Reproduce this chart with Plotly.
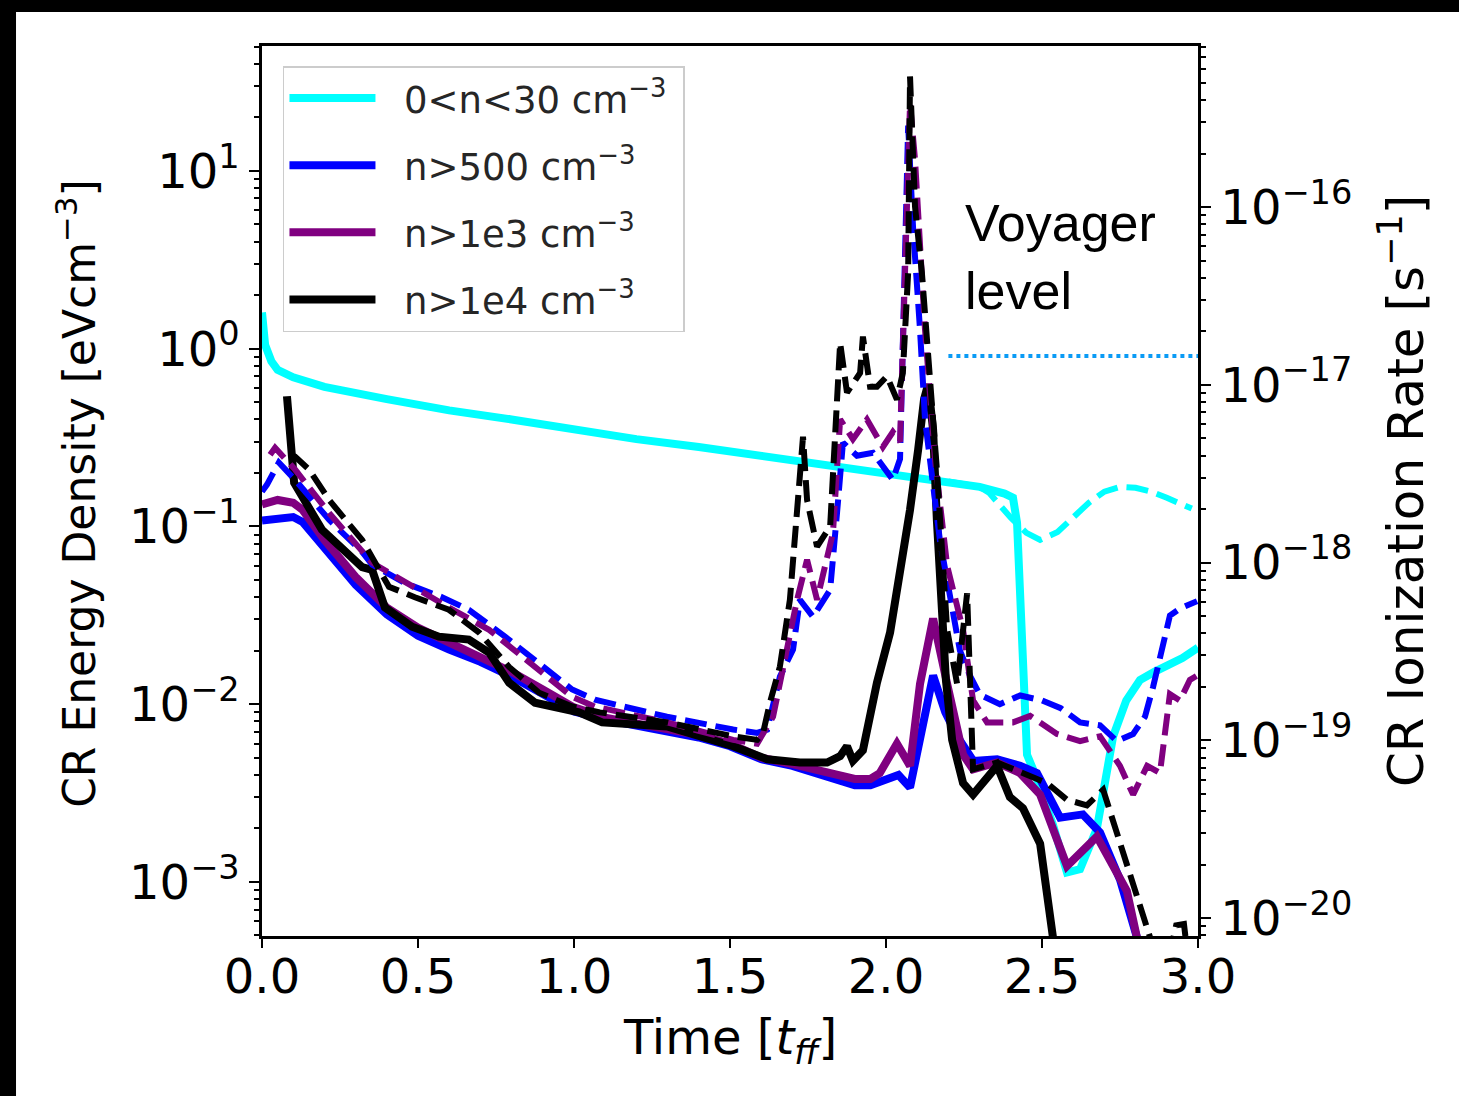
import plotly.graph_objects as go

# ---------------- data ----------------
# time in free-fall times, CR energy density in eV cm^-3
t_cyan = [0, 0.01, 0.03, 0.05, 0.1, 0.2, 0.4, 0.6, 0.8, 1.0, 1.2, 1.4, 1.6, 1.8, 2.0, 2.2, 2.3,
          2.38, 2.407, 2.42, 2.43, 2.44, 2.452, 2.484, 2.535, 2.58, 2.622, 2.676, 2.728, 2.77,
          2.814, 2.86, 2.90, 2.95, 3.0]
e_cyan = [1.6, 1.05, 0.85, 0.76, 0.69, 0.61, 0.52, 0.45, 0.40, 0.35, 0.31, 0.28, 0.25, 0.22,
          0.198, 0.179, 0.167, 0.153, 0.145, 0.105, 0.042, 0.0105, 0.0052, 0.0038, 0.0021,
          0.00113, 0.00118, 0.0020, 0.0066, 0.0105, 0.0137, 0.0152, 0.0164, 0.0182, 0.0208]

t_cyan_d = [2.2, 2.3, 2.33, 2.36, 2.4, 2.45, 2.494, 2.55, 2.6, 2.65, 2.7, 2.75, 2.8, 2.85, 2.9,
            2.95, 2.98]
e_cyan_d = [0.179, 0.167, 0.155, 0.135, 0.112, 0.092, 0.084, 0.093, 0.112, 0.136, 0.157, 0.167,
            0.165, 0.157, 0.145, 0.133, 0.126]

t_blue = [0, 0.05, 0.1, 0.13, 0.2, 0.3, 0.4, 0.5, 0.6, 0.7, 0.8, 0.9, 1.0, 1.1, 1.2, 1.3, 1.4,
          1.5, 1.6, 1.7, 1.8, 1.9, 1.95, 2.0, 2.04, 2.077, 2.1, 2.13, 2.151, 2.19, 2.228, 2.28,
          2.356, 2.43, 2.484, 2.558, 2.631, 2.686, 2.75, 2.804]
e_blue = [0.108, 0.110, 0.113, 0.106, 0.076, 0.047, 0.032, 0.0243, 0.0203, 0.0173, 0.0143,
          0.0115, 0.0091, 0.0082, 0.0076, 0.0071, 0.0065, 0.0058, 0.0049, 0.0045, 0.0040,
          0.0035, 0.0035, 0.0038, 0.0040, 0.0034, 0.0055, 0.0105, 0.0145, 0.0090, 0.0066,
          0.0048, 0.0049, 0.0045, 0.0041, 0.0023, 0.0024, 0.0019, 0.00103, 0.00049]

t_blue_d = [0, 0.016, 0.054, 0.106, 0.215, 0.321, 0.353, 0.458, 0.577, 0.663, 0.779, 0.888,
            0.994, 1.067, 1.298, 1.51, 1.587, 1.619, 1.66, 1.702, 1.724, 1.766, 1.821, 1.843,
            1.862, 1.907, 1.958, 2.022, 2.045, 2.071, 2.087, 2.109, 2.125, 2.173, 2.237, 2.269,
            2.301, 2.365, 2.43, 2.5, 2.56, 2.622, 2.686, 2.74, 2.792, 2.83, 2.856, 2.91, 2.942,
            2.997]
e_blue_d = [0.157, 0.172, 0.229, 0.183, 0.109, 0.072, 0.061, 0.048, 0.040, 0.034, 0.024, 0.0171,
            0.0121, 0.0106, 0.0085, 0.0072, 0.0069, 0.0072, 0.0143, 0.0203, 0.0387, 0.031, 0.044,
            0.119, 0.296, 0.25, 0.26, 0.183, 0.24, 18, 4.7, 1.28, 0.4, 0.083, 0.020, 0.0145,
            0.0113, 0.0100, 0.0112, 0.0105, 0.0095, 0.0079, 0.0076, 0.0062, 0.0068, 0.0085,
            0.0125, 0.0315, 0.0345, 0.038]

t_purple = [0, 0.05, 0.1, 0.13, 0.2, 0.3, 0.4, 0.5, 0.6, 0.7, 0.8, 0.9, 1.0, 1.1, 1.2, 1.3,
            1.4, 1.5, 1.6, 1.7, 1.8, 1.9, 1.95, 1.98, 2.035, 2.077, 2.109, 2.151, 2.196, 2.247,
            2.279, 2.356, 2.429, 2.494, 2.58, 2.676, 2.728, 2.772, 2.804]
e_purple = [0.133, 0.141, 0.136, 0.124, 0.084, 0.052, 0.035, 0.027, 0.0222, 0.0185, 0.0152,
            0.0121, 0.0096, 0.0084, 0.0078, 0.0073, 0.0067, 0.0060, 0.0050, 0.0046, 0.0042,
            0.0038, 0.0038, 0.0041, 0.0060, 0.0045, 0.0130, 0.0303, 0.0130, 0.0052, 0.0043,
            0.0047, 0.0041, 0.0031, 0.00123, 0.0018, 0.00123, 0.00089, 0.00049]

t_purple_d = [0.026, 0.042, 0.106, 0.215, 0.353, 0.481, 0.599, 0.728, 0.856, 0.994, 1.067,
              1.298, 1.51, 1.587, 1.638, 1.67, 1.715, 1.747, 1.779, 1.830, 1.853, 1.894, 1.939,
              1.990, 2.022, 2.045, 2.077, 2.093, 2.109, 2.125, 2.157, 2.196, 2.247, 2.279, 2.324,
              2.407, 2.462, 2.548, 2.622, 2.686, 2.75, 2.792, 2.837, 2.878, 2.91, 2.942, 2.974,
              2.997]
e_purple_d = [0.253, 0.277, 0.209, 0.119, 0.0625, 0.0458, 0.035, 0.0262, 0.0171, 0.0110,
              0.0097, 0.0079, 0.0063, 0.0060, 0.0085, 0.0163, 0.0387, 0.065, 0.0387, 0.092, 0.40,
              0.31, 0.40, 0.28, 0.34, 0.30, 24, 11.6, 4.1, 1.28, 0.238, 0.060, 0.0262, 0.0105,
              0.0079, 0.0079, 0.0086, 0.0068, 0.0062, 0.0066, 0.0045, 0.0031, 0.0045, 0.0041,
              0.0114, 0.0105, 0.0137, 0.0145]

t_black = [0.08, 0.103, 0.192, 0.321, 0.353, 0.394, 0.481, 0.567, 0.663, 0.728, 0.792, 0.875,
           1.016, 1.09, 1.298, 1.51, 1.619, 1.724, 1.811, 1.853, 1.875, 1.894, 1.926, 1.971,
           2.013, 2.045, 2.077, 2.103, 2.122, 2.135, 2.151, 2.163, 2.176, 2.192, 2.212, 2.247,
           2.279, 2.356, 2.397, 2.439, 2.494, 2.535]
e_black = [0.54, 0.176, 0.096, 0.059, 0.057, 0.035, 0.0273, 0.024, 0.0231, 0.0195, 0.0132,
           0.0102, 0.0090, 0.0079, 0.0075, 0.0058, 0.0049, 0.0047, 0.0047, 0.0051, 0.0058,
           0.0048, 0.0055, 0.0132, 0.0253, 0.055, 0.124, 0.27, 0.52, 0.63, 0.35, 0.109, 0.0387,
           0.0137, 0.0063, 0.0036, 0.0031, 0.0045, 0.0030, 0.0026, 0.00164, 0.00049]

t_black_d = [0.090, 0.106, 0.151, 0.215, 0.321, 0.407, 0.490, 0.599, 0.696, 0.792, 0.888,
             0.994, 1.083, 1.298, 1.51, 1.587, 1.606, 1.628, 1.66, 1.692, 1.734, 1.747, 1.779,
             1.821, 1.853, 1.875, 1.917, 1.926, 1.949, 1.971, 2.003, 2.035, 2.054, 2.071, 2.077,
             2.093, 2.115, 2.131, 2.141, 2.163, 2.196, 2.228, 2.260, 2.269, 2.279, 2.356, 2.439,
             2.516, 2.580, 2.644, 2.696, 2.75, 2.824, 2.846, 2.894, 2.930, 2.955, 2.974]
e_black_d = [0.253, 0.247, 0.209, 0.141, 0.084, 0.0458, 0.040, 0.034, 0.0253, 0.0162, 0.0116,
             0.0097, 0.0090, 0.0079, 0.0066, 0.0063, 0.0069, 0.0102, 0.0163, 0.0387, 0.32, 0.141,
             0.077, 0.10, 1.08, 0.566, 0.73, 1.17, 0.61, 0.61, 0.70, 0.517, 0.73, 2.68, 34, 6.3,
             2.68, 1.12, 0.67, 0.21, 0.0262, 0.013, 0.042, 0.015, 0.0043, 0.0047, 0.0041, 0.0036,
             0.0029, 0.0027, 0.0033, 0.00164, 0.00065, 0.00049, 0.0003, 0.00057, 0.00058, 0.0003]

# Voyager ionization level (right axis, s^-1)
voyager_t = [2.2, 3.0]
voyager_rate = [1.45e-17, 1.45e-17]

# axis ticks
x_ticks = [0.0, 0.5, 1.0, 1.5, 2.0, 2.5, 3.0]
x_ticktext = ["0.0", "0.5", "1.0", "1.5", "2.0", "2.5", "3.0"]
left_ticks = [1e-3, 1e-2, 1e-1, 1e0, 1e1]
left_ticktext = ["10<sup>−3</sup>", "10<sup>−2</sup>", "10<sup>−1</sup>", "10<sup>0</sup>",
                 "10<sup>1</sup>"]
right_ticks = [1e-20, 1e-19, 1e-18, 1e-17, 1e-16]
right_ticktext = ["10<sup>−20</sup>", "10<sup>−19</sup>", "10<sup>−18</sup>",
                  "10<sup>−17</sup>", "10<sup>−16</sup>"]
left_minor = [m * 10.0 ** e for e in range(-4, 2) for m in range(2, 10)]
right_minor = [m * 10.0 ** e for e in range(-21, -15) for m in range(2, 10)]

CYAN, BLUE, PURPLE, BLACK = "#00FFFF", "#0000FF", "#800080", "#000000"
SOLID_W, DASH_W = 8, 6
DASH = "22px,9px"

fig = go.Figure()

solid = [
    (t_cyan, e_cyan, CYAN, "&nbsp;&nbsp;0&lt;n&lt;30 cm<sup>−3</sup>&nbsp;"),
    (t_blue, e_blue, BLUE, "&nbsp;&nbsp;n&gt;500 cm<sup>−3</sup>"),
    (t_purple, e_purple, PURPLE, "&nbsp;&nbsp;n&gt;1e3 cm<sup>−3</sup>"),
    (t_black, e_black, BLACK, "&nbsp;&nbsp;n&gt;1e4 cm<sup>−3</sup>"),
]
for i, (tx, ey, col, name) in enumerate(solid):
    fig.add_trace(go.Scatter(x=tx, y=ey, mode="lines", name=name, legendgroup=f"g{i}",
                             line=dict(color=col, width=SOLID_W)))

dashed = [
    (t_cyan_d, e_cyan_d, CYAN),
    (t_blue_d, e_blue_d, BLUE),
    (t_purple_d, e_purple_d, PURPLE),
    (t_black_d, e_black_d, BLACK),
]
for tx, ey, col in dashed:
    fig.add_trace(go.Scatter(x=tx, y=ey, mode="lines", showlegend=False,
                             line=dict(color=col, width=DASH_W, dash=DASH)))

fig.add_trace(go.Scatter(x=voyager_t, y=voyager_rate, mode="lines", yaxis="y2",
                         showlegend=False,
                         line=dict(color="#0A9BF5", width=4, dash="4px,4px")))

tickfont = dict(family="DejaVu Sans", size=48, color="black")

fig.update_layout(
    width=1459, height=1096,
    margin=dict(l=262, r=261, t=46, b=160),
    paper_bgcolor="white", plot_bgcolor="white",
    font=dict(family="DejaVu Sans", color="black"),
    xaxis=dict(range=[0, 3], tickmode="array", tickvals=x_ticks, ticktext=x_ticktext,
               ticks="outside", ticklen=9, tickwidth=2, tickcolor="black",
               ticklabelstandoff=-12,
               showline=True, linecolor="black", linewidth=2.5, mirror=True,
               showgrid=False, zeroline=False, tickfont=tickfont),
    yaxis=dict(type="log", range=[-3.304, 1.703], tickmode="array", tickvals=left_ticks,
               ticktext=left_ticktext, ticks="outside", ticklen=10, tickwidth=2,
               tickcolor="black", showline=True, linecolor="black", linewidth=2.5,
               showgrid=False, zeroline=False, tickfont=tickfont,
               minor=dict(tickmode="array", tickvals=left_minor, ticks="outside", ticklen=5,
                          tickwidth=1.5, tickcolor="black", showgrid=False)),
    yaxis2=dict(type="log", range=[-20.101, -15.094], overlaying="y", side="right",
                tickmode="array", tickvals=right_ticks, ticktext=right_ticktext,
                ticks="outside", ticklen=10, tickwidth=2, tickcolor="black",
                showline=True, linecolor="black", linewidth=2.5, showgrid=False,
                zeroline=False, tickfont=tickfont,
                minor=dict(tickmode="array", tickvals=right_minor, ticks="outside",
                           ticklen=5, tickwidth=1.5, tickcolor="black", showgrid=False)),
    legend=dict(x=0.0224, y=0.9775, xanchor="left", yanchor="top",
                bgcolor="rgba(255,255,255,0.8)", bordercolor="#cccccc", borderwidth=1.5,
                font=dict(family="DejaVu Sans", size=37, color="#262626"),
                itemwidth=86, traceorder="grouped", tracegroupgap=16),
    showlegend=True,
)

# black frame bands of the original picture (top and left)
fig.add_shape(type="rect", xref="paper", yref="paper", x0=-0.30, x1=1.30, y0=1.0382, y1=1.06,
              fillcolor="black", line=dict(width=0), layer="above")
fig.add_shape(type="rect", xref="paper", yref="paper", x0=-0.30, x1=-0.2628, y0=-0.2, y1=1.06,
              fillcolor="black", line=dict(width=0), layer="above")

# axis titles
fig.add_annotation(text="CR Energy Density [eVcm<sup>−3</sup>]", xref="paper", yref="paper",
                   x=-0.1985, y=0.497, xanchor="center", yanchor="middle", textangle=-90,
                   showarrow=False, font=dict(family="DejaVu Sans", size=44, color="black"))
fig.add_annotation(text="CR Ionization Rate [s<sup>−1</sup>]", xref="paper", yref="paper",
                   x=1.218, y=0.5, xanchor="center", yanchor="middle", textangle=-90,
                   showarrow=False, font=dict(family="DejaVu Sans", size=50, color="black"))
fig.add_annotation(text="Time [<i>t</i><sub><i>ff</i></sub>]", xref="paper", yref="paper",
                   x=0.5, y=-0.117, xanchor="center", yanchor="middle", showarrow=False,
                   font=dict(family="DejaVu Sans", size=48, color="black"))
fig.add_annotation(text="Voyager<br>level", xref="x", yref="paper", x=2.247, y=0.836,
                   xanchor="left", yanchor="top", align="left", showarrow=False,
                   font=dict(family="Liberation Sans", size=52, color="black"))

fig.write_html("out.html")
